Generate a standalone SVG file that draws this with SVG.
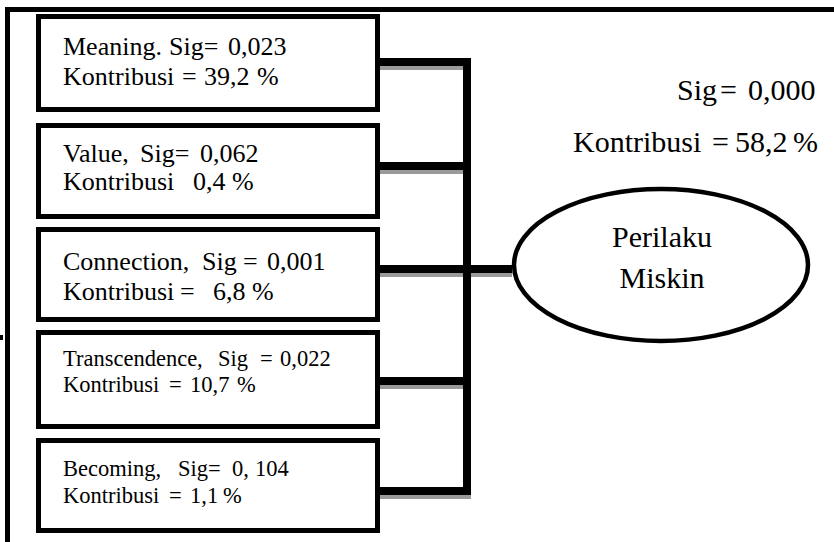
<svg xmlns="http://www.w3.org/2000/svg" width="834" height="542" viewBox="0 0 834 542">
  <style>
    .frame { fill: none; stroke: #000; stroke-width: 5; }
    .box { fill: #fff; stroke: #000; stroke-width: 5; }
    .link { fill: none; stroke: #000; stroke-width: 8; stroke-linejoin: miter; }
    .shade { fill: none; stroke: #9a9a9a; stroke-width: 8; stroke-linejoin: miter; }
    .oval { fill: #fff; stroke: #000; stroke-width: 4.5; }
    text { font-family: "Liberation Serif", "Times New Roman", serif; fill: #000; }
    .t26 { font-size: 26px; }
    .t23 { font-size: 22.5px; }
    .t30 { font-size: 30px; }
  </style>

  <rect width="834" height="542" fill="#fff"/>

  <!-- outer frame: top and left edges -->
  <g id="frame">
    <path class="frame" d="M7.5,542 V9.5 H834"/>
    <rect x="0" y="335" width="3" height="5" fill="#000"/>
  </g>

  <!-- connectors: bracket joining the five factors to the outcome -->
  <g id="connectors">
    <g transform="translate(0,4)">
      <path class="shade" d="M380,62 H467 V491 H380"/>
      <path class="shade" d="M380,166 H467"/>
      <path class="shade" d="M380,269 H512"/>
      <path class="shade" d="M380,381 H467"/>
    </g>
    <path class="link" d="M380,62 H467 V491 H380"/>
    <path class="link" d="M380,166 H467"/>
    <path class="link" d="M380,269 H512"/>
    <path class="link" d="M380,381 H467"/>
  </g>

  <g id="node-meaning">
    <rect class="box" x="38.5" y="16.5" width="339" height="93"/>
    <text class="t26" x="63" y="55">Meaning.<tspan x="169">Sig=</tspan><tspan x="228">0,023</tspan></text>
    <text class="t26" x="63" y="85">Kontribusi<tspan x="182">=</tspan><tspan x="204">39,2</tspan><tspan x="257">%</tspan></text>
  </g>

  <g id="node-value">
    <rect class="box" x="38.5" y="125.5" width="339" height="91"/>
    <text class="t26" x="63" y="162">Value,<tspan x="140">Sig=</tspan><tspan x="200">0,062</tspan></text>
    <text class="t26" x="63" y="190">Kontribusi<tspan x="193">0,4</tspan><tspan x="232">%</tspan></text>
  </g>

  <g id="node-connection">
    <rect class="box" x="38.5" y="229.5" width="339" height="90"/>
    <text class="t26" x="63" y="270">Connection,<tspan x="202">Sig</tspan><tspan x="243">=</tspan><tspan x="267">0,001</tspan></text>
    <text class="t26" x="63" y="300">Kontribusi<tspan x="180">=</tspan><tspan x="213">6,8</tspan><tspan x="252">%</tspan></text>
  </g>

  <g id="node-transcendence">
    <rect class="box" x="38.5" y="332.5" width="339" height="94"/>
    <text class="t23" x="63" y="366">Transcendence,<tspan x="218">Sig</tspan><tspan x="260">=</tspan><tspan x="280">0,022</tspan></text>
    <text class="t23" x="63" y="392">Kontribusi<tspan x="169">=</tspan><tspan x="190">10,7</tspan><tspan x="237">%</tspan></text>
  </g>

  <g id="node-becoming">
    <rect class="box" x="38.5" y="440.5" width="339" height="90"/>
    <text class="t23" x="63" y="476">Becoming,<tspan x="178">Sig=</tspan><tspan x="232">0,</tspan><tspan x="255">104</tspan></text>
    <text class="t23" x="63" y="503">Kontribusi<tspan x="169">=</tspan><tspan x="190">1,1</tspan><tspan x="223">%</tspan></text>
  </g>

  <g id="node-perilaku-miskin">
    <ellipse class="oval" cx="661" cy="265" rx="147" ry="76"/>
    <text class="t30" x="662" y="247" text-anchor="middle">Perilaku</text>
    <text class="t30" x="662" y="288" text-anchor="middle">Miskin</text>
  </g>

  <!-- overall model statistics -->
  <g id="model-summary">
    <text class="t30" x="677" y="100">Sig<tspan x="720">=</tspan><tspan x="748">0,000</tspan></text>
    <text class="t30" x="573" y="152">Kontribusi<tspan x="712">=</tspan><tspan x="735">58,2</tspan><tspan x="793">%</tspan></text>
  </g>
</svg>
